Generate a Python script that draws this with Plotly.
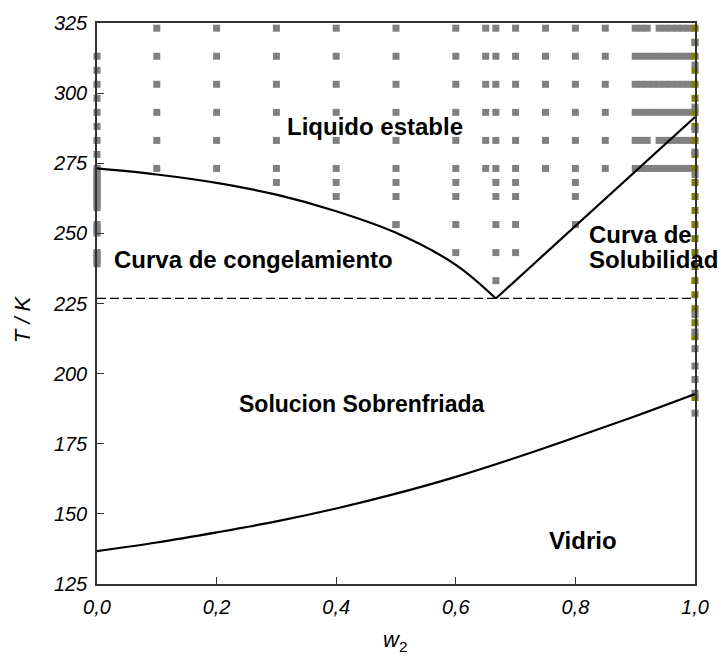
import plotly.graph_objects as go

# ---- data ----
# freezing curve (ice liquidus) w2 vs T/K
freeze_w = [0.0, 0.1, 0.2, 0.3, 0.4, 0.5, 0.6, 0.667]
freeze_T = [273.15, 271.0, 268.0, 263.8, 257.9, 250.2, 238.8, 226.8]
# solubility curve
sol_w = [0.667, 0.8, 0.9, 1.0]
sol_T = [226.8, 252.6, 271.8, 291.5]
# glass transition curve
glass_w = [0.0, 0.1, 0.2, 0.3, 0.4, 0.5, 0.6, 0.7, 0.8, 0.9, 1.0]
glass_T = [136.7, 139.8, 143.4, 147.3, 151.9, 157.2, 163.2, 170.0, 177.3, 184.8, 192.7]
eutectic_T = 226.8

# measured points (gray)
rows_T = [323.15, 313.15, 303.15, 293.15, 283.15, 273.15]
cols_full_w = [0.1, 0.2, 0.3, 0.4, 0.5, 0.6, 0.65, 0.667, 0.7, 0.75, 0.8, 0.85,
               0.90, 0.91, 0.92, 0.94, 0.95, 0.96, 0.97, 0.98, 0.99]
col_093_T = [313.15, 303.15, 293.15, 273.15]
extra_w = [0.3, 0.4, 0.4, 0.5, 0.5, 0.5, 0.5, 0.6, 0.6, 0.6, 0.6,
           0.667, 0.667, 0.667, 0.667, 0.667, 0.7, 0.7, 0.7, 0.7, 0.8, 0.8, 0.8]
extra_T = [268.15, 268.15, 263.15, 268.15, 263.15, 253.15, 253.15, 268.15, 263.15, 253.15, 243.15,
           268.15, 263.15, 253.15, 243.15, 233.15, 268.15, 263.15, 253.15, 243.15, 268.15, 263.15, 253.15]
w0_T = [313.15, 308.15, 303.15, 298.15, 293.15, 288.15, 283.15, 278.15,
        273.15, 272.15, 271.15, 270.15, 269.15, 268.15, 267.15, 266.15, 265.15, 264.15,
        263.15, 262.15, 261.15, 260.15, 259.15,
        253.15, 252.15, 251.15, 250.15,
        243.15, 242.15, 241.15, 240.15, 239.15]
w1_gray_T = [318.0, 310.0, 295.0, 287.0, 279.0, 271.0, 221.0, 214.8, 208.9, 202.7, 197.9, 193.0, 185.9]
# olive points at w2 = 1
w1_olive_T = [323.15, 318.15, 313.15, 308.15, 303.15, 298.15, 293.15, 288.15, 283.15, 278.15,
              273.15, 268.15, 263.15, 258.15, 253.15, 248.15, 243.15, 238.15, 233.15, 228.15,
              223.15, 218.15, 213.15, 191.5]

x_ticks = [0.0, 0.2, 0.4, 0.6, 0.8, 1.0]
y_ticks = [125, 150, 175, 200, 225, 250, 275, 300, 325]

GRAY = "#808080"
OLIVE = "#808000"
FONT = "Liberation Sans, Arial, sans-serif"

# build gray point arrays
gx, gy = [], []
for w in cols_full_w:
    for t in rows_T:
        gx.append(w); gy.append(t)
for t in col_093_T:
    gx.append(0.93); gy.append(t)
gx += extra_w; gy += extra_T
gx += [0.0] * len(w0_T); gy += w0_T

fig = go.Figure()
fig.add_trace(go.Scatter(x=gx, y=gy, mode="markers", cliponaxis=False,
                         marker=dict(symbol="square", size=7, color=GRAY, line=dict(width=0))))
fig.add_trace(go.Scatter(x=[1.0] * len(w1_olive_T), y=w1_olive_T, mode="markers", cliponaxis=False,
                         marker=dict(symbol="square", size=7, color=OLIVE, line=dict(width=0))))
fig.add_trace(go.Scatter(x=[1.0] * len(w1_gray_T), y=w1_gray_T, mode="markers", cliponaxis=False,
                         marker=dict(symbol="square", size=7, color=GRAY, line=dict(width=0))))
fig.add_trace(go.Scatter(x=[0.0, 1.0], y=[eutectic_T, eutectic_T], mode="lines",
                         line=dict(color="black", width=1.3, dash="9px,4px")))
fig.add_trace(go.Scatter(x=freeze_w, y=freeze_T, mode="lines", cliponaxis=False,
                         line=dict(color="black", width=2.2, shape="spline")))
fig.add_trace(go.Scatter(x=sol_w, y=sol_T, mode="lines", cliponaxis=False,
                         line=dict(color="black", width=2.2)))
fig.add_trace(go.Scatter(x=glass_w, y=glass_T, mode="lines", cliponaxis=False,
                         line=dict(color="black", width=2.2, shape="spline")))

axis_common = dict(showgrid=False, zeroline=False, showline=True, linecolor="#333333", linewidth=1.5,
                   mirror=True, ticks="inside", ticklen=7, tickwidth=1, tickcolor="#333333",
                   ticklabelstandoff=4,
                   tickfont=dict(family=FONT, size=20, color="black", style="italic"))
fig.update_xaxes(range=[0, 1], tickvals=x_ticks, tickformat=".1f", **axis_common)
fig.update_yaxes(range=[125, 325], tickvals=y_ticks, **axis_common)

def lab(text, x, y, size=24, xanchor="center"):
    fig.add_annotation(x=x, y=y, xref="x", yref="y", text="<b>%s</b>" % text, showarrow=False,
                       xanchor=xanchor, yanchor="middle",
                       font=dict(family=FONT, size=size, color="black"))

lab("Liquido estable", 0.465, 288.0)
lab("Curva de congelamiento", 0.2616, 240.7)
lab("Curva de", 0.8195, 249.6, xanchor="left")
lab("Solubilidad", 0.8195, 240.7, xanchor="left")
lab("Solucion Sobrenfriada", 0.443, 189.0, size=23)
lab("Vidrio", 0.813, 140.6)

# axis titles
fig.add_annotation(x=(22 - 97) / 604, y=(584 - 318) / 564, xref="paper", yref="paper",
                   text="<i>T / K</i>", textangle=-90, showarrow=False, xanchor="center", yanchor="middle",
                   font=dict(family=FONT, size=22, color="black"))
fig.add_annotation(x=(398 - 97) / 604, y=(584 - 641) / 564, xref="paper", yref="paper",
                   text="<i>w</i><sub>2</sub>", showarrow=False, xanchor="center", yanchor="middle",
                   font=dict(family=FONT, size=22, color="black"))

fig.update_layout(width=721, height=663, margin=dict(l=97, r=20, t=20, b=79),
                  plot_bgcolor="white", paper_bgcolor="white", separators=",.",
                  showlegend=False)

fig.write_html("out.html")
